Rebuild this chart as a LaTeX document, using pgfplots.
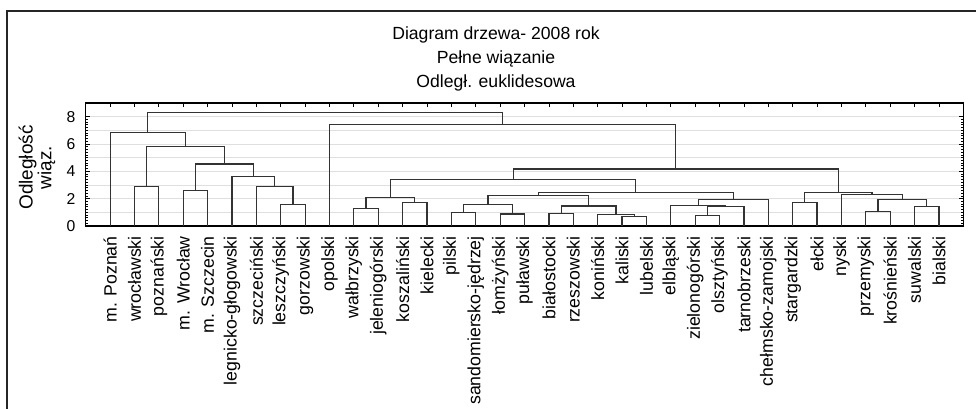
\documentclass[border=0pt]{standalone}
\usepackage{pgfplots}
\pgfplotsset{compat=1.18}
\usepackage{fontspec}
\setmainfont{Liberation Sans}
\begin{document}
\begin{tikzpicture}[x=1pt,y=1pt]
\useasboundingbox (0,0) rectangle (732,306);
\draw[line width=1.4pt,black!85] (5.25,-2) -- (5.25,297.75) -- (734,297.75);
\node[anchor=base,font=\fontsize{13.2}{15}\selectfont] at (372,276.5) {Diagram drzewa- 2008 rok};
\node[anchor=base,font=\fontsize{13.2}{15}\selectfont] at (372,258.5) {Pełne wiązanie};
\node[anchor=base,font=\fontsize{13.2}{15}\selectfont] at (372,240.5) {Odległ. euklidesowa};
\node[rotate=90,align=center,inner sep=0pt,font=\fontsize{14.2}{14}\selectfont] at (27.75,180.4) {Odległość\\wiąz.};
\begin{axis}[
  at={(64.3pt,136.5pt)}, anchor=south west,
  scale only axis, width=658.2pt, height=92.25pt,
  xmin=-1, xmax=35, ymin=0, ymax=9,
  axis line style={line width=1.1pt,black},
  xtick={0,...,34},
  xticklabels={m. Poznań,wrocławski,poznański,m. Wrocław,m. Szczecin,legnicko-głogowski,szczeciński,leszczyński,gorzowski,opolski,wałbrzyski,jeleniogórski,koszaliński,kielecki,pilski,sandomiersko-jędrzej,łomżyński,puławski,białostocki,rzeszowski,koniński,kaliski,lubelski,elbląski,zielonogórski,olsztyński,tarnobrzeski,chełmsko-zamojski,stargardzki,ełcki,nyski,przemyski,krośnieński,suwalski,bialski},
  xticklabel style={rotate=90,anchor=east,inner sep=0pt,xshift=-7.5pt,font=\fontsize{13.3}{15}\selectfont},
  ytick={0,2,4,6,8},
  minor y tick num=9,
  extra y ticks={1,3,5,7},
  extra y tick labels={},
  extra y tick style={major tick length=1.8pt},
  yticklabel style={anchor=east,inner sep=0pt,xshift=-7.5pt,font=\fontsize{11.8}{14}\selectfont},
  /pgf/number format/assume math mode=true,
  tick align=inside,
  xtick pos=both, ytick pos=both,
  major tick length=3pt, minor tick length=1.8pt,
  tick style={black,line width=0.6pt},
  ymajorgrids, extra y tick style={grid=major},
  major grid style={gray!25,line width=0.5pt},
  unbounded coords=jump,
  clip=false,
]
\addplot[color=black!80,line width=0.9pt] coordinates {
(1,0)(1,2.89)(2,2.89)(2,0) (0,nan)
(3,0)(3,2.62)(4,2.62)(4,0) (0,nan)
(7,0)(7,1.57)(8,1.57)(8,0) (0,nan)
(6,0)(6,2.89)(7.5,2.89)(7.5,1.57) (0,nan)
(5,0)(5,3.65)(6.75,3.65)(6.75,2.89) (0,nan)
(3.5,2.62)(3.5,4.53)(5.875,4.53)(5.875,3.65) (0,nan)
(1.5,2.89)(1.5,5.81)(4.6875,5.81)(4.6875,4.53) (0,nan)
(0,0)(0,6.84)(3.09375,6.84)(3.09375,5.81) (0,nan)
(10,0)(10,1.30)(11,1.30)(11,0) (0,nan)
(12,0)(12,1.74)(13,1.74)(13,0) (0,nan)
(10.5,1.30)(10.5,2.08)(12.5,2.08)(12.5,1.74) (0,nan)
(14,0)(14,1.0)(15,1.0)(15,0) (0,nan)
(16,0)(16,0.88)(17,0.88)(17,0) (0,nan)
(14.5,1.0)(14.5,1.59)(16.5,1.59)(16.5,0.88) (0,nan)
(18,0)(18,0.93)(19,0.93)(19,0) (0,nan)
(21,0)(21,0.69)(22,0.69)(22,0) (0,nan)
(20,0)(20,0.86)(21.5,0.86)(21.5,0.69) (0,nan)
(18.5,0.93)(18.5,1.47)(20.75,1.47)(20.75,0.86) (0,nan)
(15.5,1.59)(15.5,2.25)(19.625,2.25)(19.625,1.47) (0,nan)
(24,0)(24,0.76)(25,0.76)(25,0) (0,nan)
(24.5,0.76)(24.5,1.42)(26,1.42)(26,0) (0,nan)
(23,0)(23,1.52)(25.25,1.52)(25.25,1.42) (0,nan)
(24.125,1.52)(24.125,1.96)(27,1.96)(27,0) (0,nan)
(17.5625,2.25)(17.5625,2.45)(25.5625,2.45)(25.5625,1.96) (0,nan)
(11.5,2.08)(11.5,3.41)(21.5625,3.41)(21.5625,2.45) (0,nan)
(28,0)(28,1.74)(29,1.74)(29,0) (0,nan)
(31,0)(31,1.05)(32,1.05)(32,0) (0,nan)
(33,0)(33,1.42)(34,1.42)(34,0) (0,nan)
(31.5,1.05)(31.5,1.96)(33.5,1.96)(33.5,1.42) (0,nan)
(30,0)(30,2.33)(32.5,2.33)(32.5,1.96) (0,nan)
(28.5,1.74)(28.5,2.48)(31.25,2.48)(31.25,2.33) (0,nan)
(16.53125,3.41)(16.53125,4.17)(29.875,4.17)(29.875,2.48) (0,nan)
(9,0)(9,7.43)(23.203125,7.43)(23.203125,4.17) (0,nan)
(1.546875,6.84)(1.546875,8.33)(16.1015625,8.33)(16.1015625,7.43)
};
\end{axis}
\end{tikzpicture}
\end{document}
